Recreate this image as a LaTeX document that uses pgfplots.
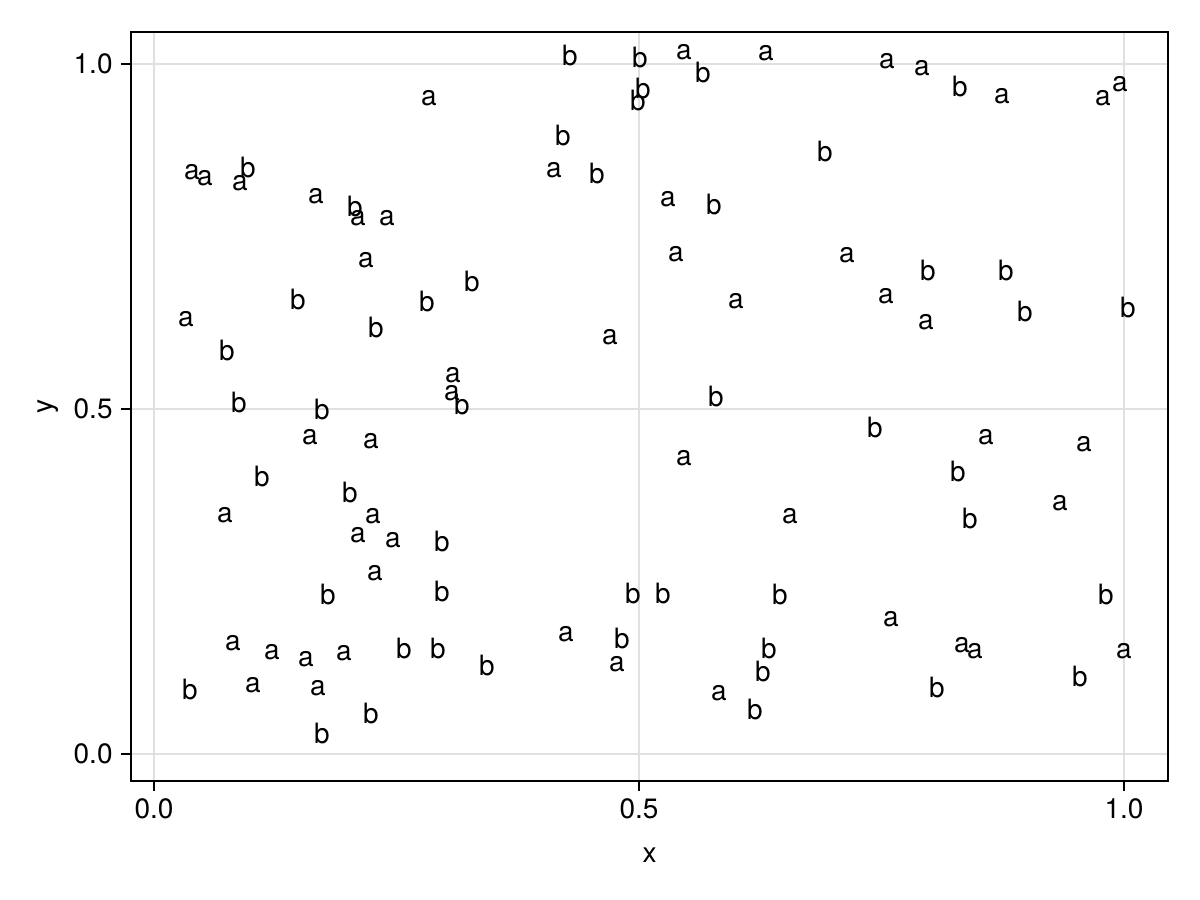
\documentclass[border=0pt]{standalone}
\usepackage{fontspec}
\setmainfont{TeX Gyre Heros}
\usepackage{pgfplots}
\pgfplotsset{compat=1.18}
\usetikzlibrary{calc}
\begin{document}
\begin{tikzpicture}
\begin{axis}[
  scale only axis,
  width=518.5bp, height=374.5bp,
  xmin=-0.0237, xmax=1.0454,
  ymin=-0.0391, ymax=1.0464,
  xtick={0,0.5,1}, ytick={0,0.5,1},
  xticklabels={0.0,0.5,1.0}, yticklabels={0.0,0.5,1.0},
  tick pos=left, tick align=outside,
  major tick length=5bp,
  every tick/.style={black, line width=1bp},
  axis line style={line width=1bp, black},
  grid=major,
  major grid style={black!12, line width=1bp},
  font=\fontsize{14bp}{16bp}\selectfont,
  xticklabel style={anchor=center, inner sep=0pt, yshift=-9bp, font=\fontsize{14bp}{16bp}\selectfont},
  yticklabel style={anchor=east, inner sep=0pt, xshift=-4bp, font=\fontsize{14bp}{16bp}\selectfont},
  xlabel={x}, ylabel={y},
  xlabel style={at={(axis description cs:0.5,0)}, anchor=center, yshift=-37bp, inner sep=0pt},
  ylabel style={at={(axis description cs:0,0.5)}, anchor=center, rotate=0, yshift=41.5bp, inner sep=0pt},
  clip=false,
  nodes near coords,
  point meta=explicit symbolic,
  nodes near coords style={anchor=center, inner sep=0pt, font=\fontsize{14bp}{16bp}\selectfont, text=black},
]
\addplot[draw=none, mark=none] table[meta=l] {
x y l
0.5464 1.0174 a
0.6309 1.0159 a
0.2835 0.9507 a
0.7557 1.0043 a
0.7918 0.9942 a
0.8742 0.9536 a
0.9784 0.9507 a
0.9959 0.9710 a
0.0392 0.8435 a
0.0526 0.8348 a
0.0887 0.8275 a
0.4124 0.8464 a
0.1670 0.8087 a
0.2103 0.7768 a
0.2402 0.7768 a
0.5299 0.8043 a
0.2186 0.7159 a
0.5381 0.7246 a
0.7144 0.7232 a
0.6000 0.6565 a
0.7546 0.6638 a
0.0330 0.6304 a
0.7959 0.6261 a
0.4701 0.6043 a
0.3082 0.5493 a
0.3072 0.5232 a
0.1608 0.4594 a
0.2237 0.4536 a
0.8577 0.4594 a
0.9588 0.4493 a
0.5464 0.4290 a
0.9340 0.3638 a
0.0732 0.3464 a
0.2258 0.3449 a
0.6557 0.3449 a
0.2103 0.3174 a
0.2464 0.3101 a
0.2278 0.2623 a
0.7598 0.1957 a
0.0814 0.1609 a
0.1216 0.1478 a
0.1567 0.1377 a
0.1959 0.1464 a
0.4247 0.1739 a
0.4773 0.1304 a
0.8330 0.1580 a
0.8464 0.1493 a
1.0000 0.1493 a
0.1021 0.1000 a
0.1691 0.0957 a
0.5825 0.0884 a
};
\addplot[draw=none, mark=none] table[meta=l] {
x y l
0.4289 1.0130 b
0.5010 1.0101 b
0.5660 0.9884 b
0.5041 0.9652 b
0.4990 0.9478 b
0.8309 0.9681 b
0.4216 0.8971 b
0.6918 0.8725 b
0.0969 0.8507 b
0.4567 0.8420 b
0.2072 0.7928 b
0.5773 0.7971 b
0.7979 0.7014 b
0.8784 0.7014 b
0.3278 0.6855 b
0.1485 0.6580 b
0.2814 0.6565 b
0.8979 0.6420 b
1.0041 0.6464 b
0.2289 0.6188 b
0.0753 0.5855 b
0.3175 0.5072 b
0.0876 0.5101 b
0.1732 0.5000 b
0.5794 0.5188 b
0.7433 0.4739 b
0.1113 0.4029 b
0.8289 0.4101 b
0.2021 0.3797 b
0.8412 0.3420 b
0.2969 0.3087 b
0.1794 0.2319 b
0.2969 0.2362 b
0.4938 0.2333 b
0.5247 0.2333 b
0.6454 0.2319 b
0.9814 0.2319 b
0.2577 0.1522 b
0.2928 0.1522 b
0.4825 0.1667 b
0.6340 0.1522 b
0.3433 0.1290 b
0.6278 0.1203 b
0.9546 0.1130 b
0.0371 0.0942 b
0.8072 0.0971 b
0.6196 0.0652 b
0.2237 0.0594 b
0.1732 0.0304 b
};
\end{axis}
\path[use as bounding box] ($(current axis.south west)+(-65.5bp,-59.5bp)$) rectangle ($(current axis.north east)+(16bp,16bp)$);
\end{tikzpicture}
\end{document}
